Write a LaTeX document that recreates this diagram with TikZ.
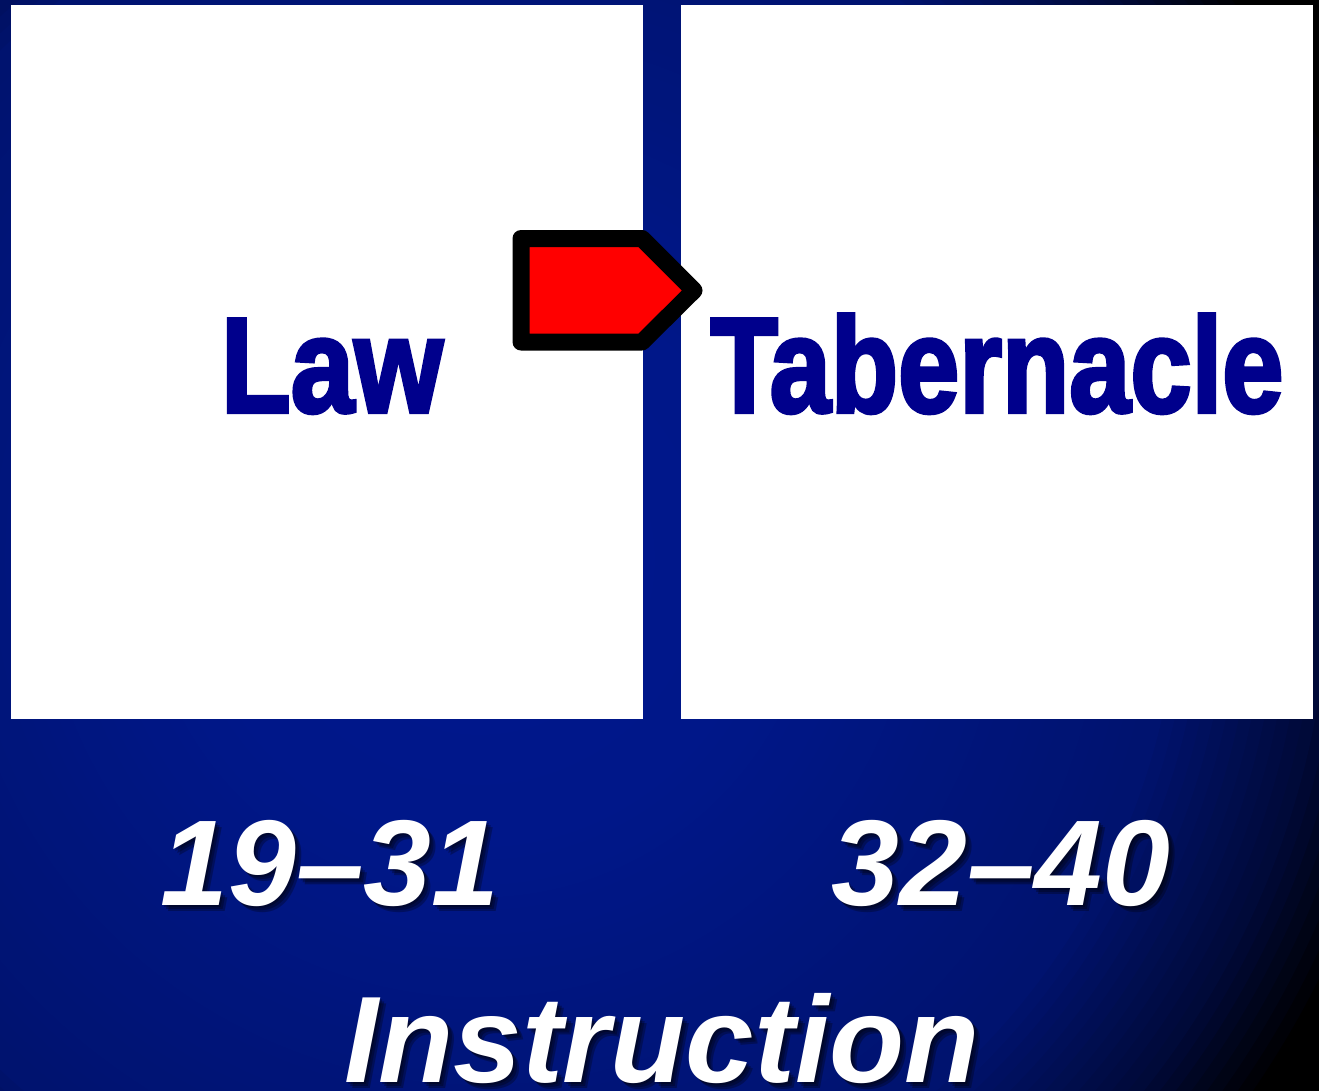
\documentclass[tikz,border=0pt]{standalone}
\usepackage{fontspec}
\setmainfont{Liberation Sans}
\newfontfamily\headfont{Liberation Sans Bold}[FakeBold=3]
\newfontfamily\numfont{Liberation Sans}
\definecolor{headblue}{RGB}{0,0,140}
\definecolor{boxwhite}{RGB}{255,255,255}
\definecolor{arrowred}{RGB}{255,0,0}
\definecolor{bgbright}{RGB}{0,24,142}
\tikzset{
  panel/.style={fill=boxwhite, draw=none, inner sep=0pt, outer sep=0pt, minimum width=632pt, minimum height=714pt, anchor=north west},
  headtext/.style={text=headblue, inner sep=0pt, anchor=base, font=\headfont\fontsize{135}{135}\selectfont},
  numfontstyle/.style={font=\numfont\bfseries\itshape\fontsize{122}{122}\selectfont},
  numtext/.style={numfontstyle, text=white, inner sep=0pt, anchor=base},
  shadowtext/.style={numtext, text=black, text opacity=0.28},
  bigfont/.style={font=\numfont\bfseries\itshape\fontsize{123}{123}\selectfont},
  arrowshape/.style={fill=arrowred, draw=black, line width=17pt, line join=round}
}
\begin{document}
\begin{tikzpicture}[x=1pt,y=-1pt]
  \useasboundingbox (0,0) rectangle (1319,1090);
  \fill[black] (0,0) rectangle (1319,1090);
  \begin{scope}
    \clip (0,0) rectangle (1319,1090);
    \foreach \i in {0,...,84}{
      \pgfmathsetmacro{\d}{105-\i*1.25}
      \pgfmathsetmacro{\p}{max(0,min(100-0.1333*\d, 96-0.45*(\d-30), 78-2.533*(\d-70), 40-4*(\d-85)))}
      \fill[bgbright!\p!black] (480,560) circle ({\d*10});
    }
  \end{scope}
  % panels
  \node[panel] (leftpanel) at (11,5) {};
  \node[panel] (rightpanel) at (681,5) {};
  % headings
  \node[headtext] (law) at (332,412) {\scalebox{0.845}[1]{Law}};
  \node[headtext] (tab) at (997,412) {\scalebox{0.815}[1]{Tabernacle}};
  % arrow
  \draw[arrowshape] (521,238.5) -- (642,238.5) -- (694,290.5) -- (642,342) -- (521,342) -- cycle;
  % chapter numbers with soft shadows
  \foreach \s in {2,4,6}{
    \node[shadowtext] at (330+\s,905+\s) {19–31};
    \node[shadowtext] at (1001+\s,905+\s) {32–40};
    \node[shadowtext, bigfont] at (662+\s,1082+\s) {Instruction};
  }
  \node[numtext] (n1) at (330,905) {19–31};
  \node[numtext] (n2) at (1001,905) {32–40};
  \node[numtext, bigfont] (n3) at (662,1082) {Instruction};
\end{tikzpicture}
\end{document}
